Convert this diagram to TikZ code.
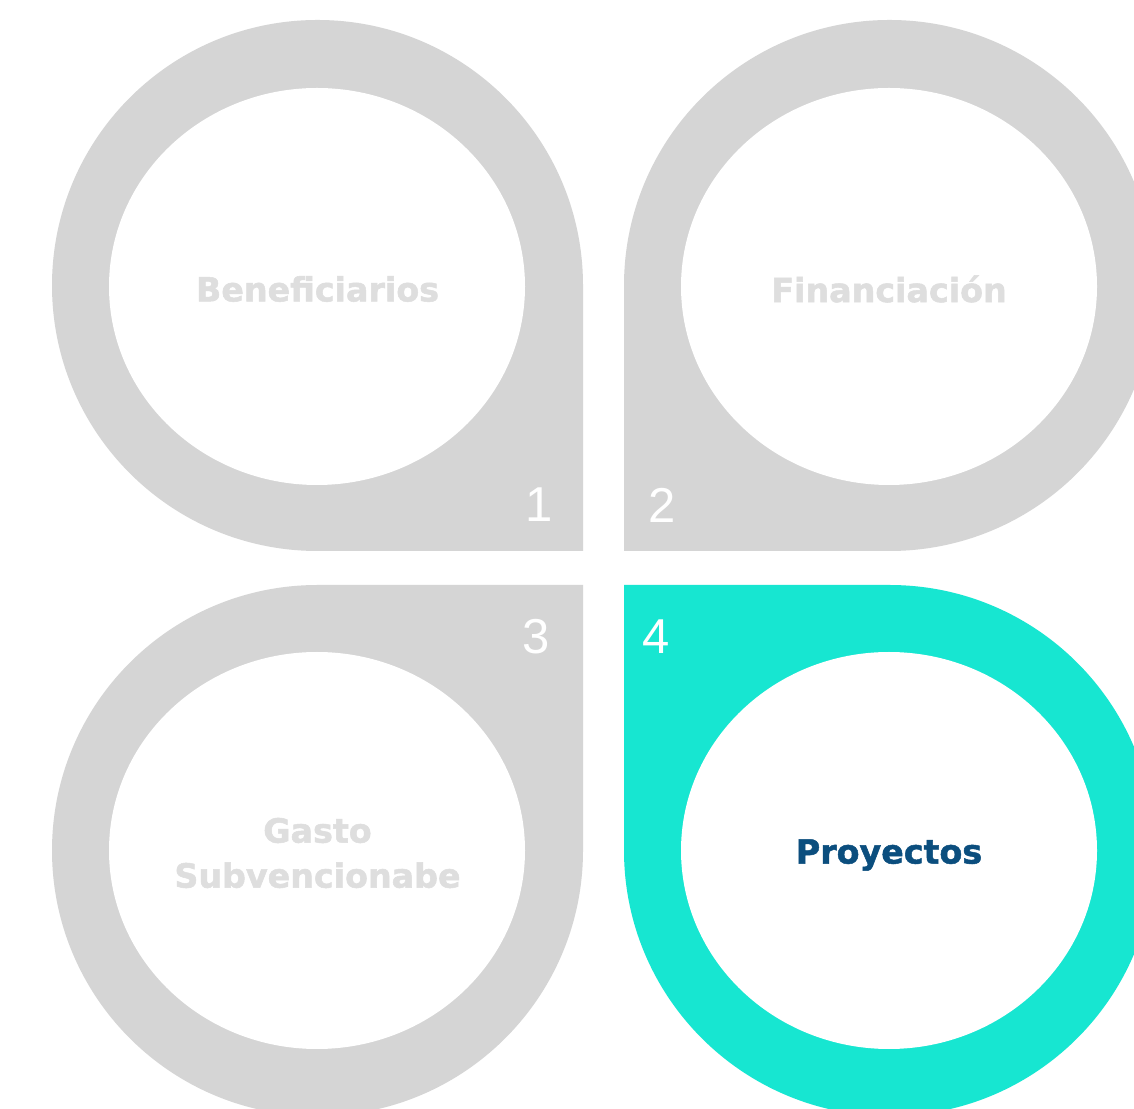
\documentclass[tikz,border=0pt]{standalone}
\usepackage{fontspec}
\setmainfont{DejaVu Sans}
\newfontfamily\lblfont[FakeBold=1.5]{DejaVu Sans Bold}
\newfontfamily\numfont{Liberation Sans}
\definecolor{petal}{HTML}{D5D5D5}
\definecolor{petalon}{HTML}{17E6D1}
\definecolor{labeloff}{HTML}{DEDEDE}
\definecolor{labelon}{HTML}{0B4E7E}
\begin{document}
\begin{tikzpicture}[x=1pt,y=1pt,
  lbl/.style={font=\lblfont\fontsize{33.3}{45}\selectfont, text=labeloff, align=center, inner sep=0pt},
  num/.style={font=\numfont\fontsize{49}{49}\selectfont, text=white, inner sep=0pt}]
\fill[white] (0,0) rectangle (1134,1108);
\useasboundingbox (0,0) rectangle (1134,1108);
\clip (0,0) rectangle (1134,1108);
% top-left petal
\fill[petal] (583,822.5) -- (583,557) -- (317.5,557) arc[start angle=-90, end angle=-360, radius=265.5] -- cycle;
\fill[white] (317,821.5) ellipse [x radius=208, y radius=198.5];
% top-right petal
\fill[petal] (624,822.5) -- (624,557) -- (889.5,557) arc[start angle=270, end angle=540, radius=265.5] -- cycle;
\fill[white] (889,821.5) ellipse [x radius=208, y radius=198.5];
% bottom-left petal
\fill[petal] (583,257.5) -- (583,523) -- (317.5,523) arc[start angle=90, end angle=360, radius=265.5] -- cycle;
\fill[white] (317,257.5) ellipse [x radius=208, y radius=198.5];
% bottom-right petal
\fill[petalon] (624,257.5) -- (624,523) -- (889.5,523) arc[start angle=90, end angle=-180, radius=265.5] -- cycle;
\fill[white] (889,257.5) ellipse [x radius=208, y radius=198.5];
% labels
\node[lbl] (benef) at (317.5,819) {Beneficiarios};
\node[lbl] (financ) at (889,819) {Financiación};
\node[lbl] (gasto) at (317.5,255) {Gasto\\Subvencionabe};
\node[lbl, text=labelon] (proy) at (889,253) {Proyectos};
% numbers
\node[num] (n1) at (539,603) {1};
\node[num] (n2) at (662,603) {2};
\node[num] (n3) at (536,471) {3};
\node[num] (n4) at (656,471) {4};
\end{tikzpicture}
\end{document}
